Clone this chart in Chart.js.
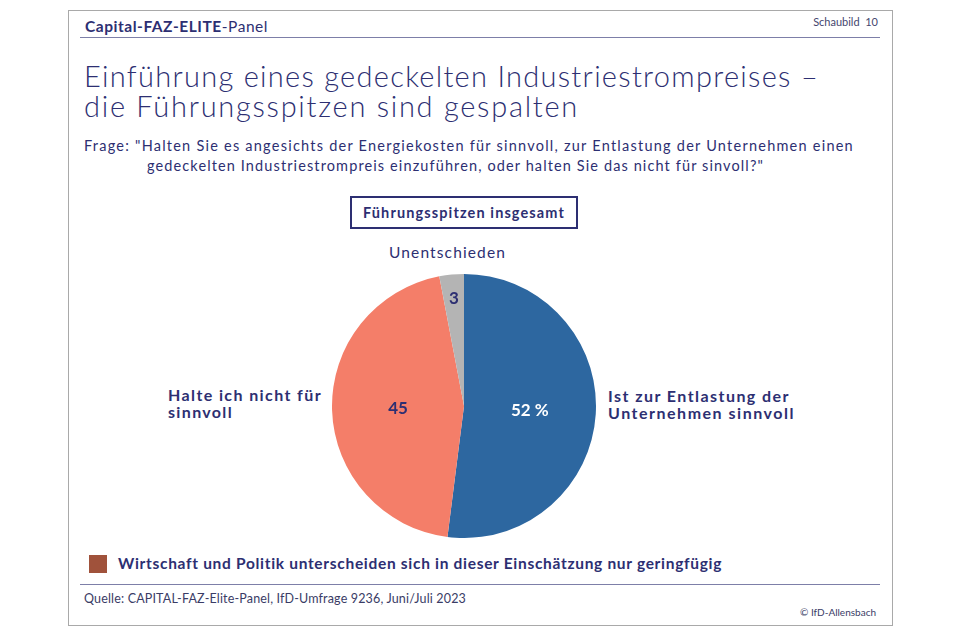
<!DOCTYPE html>
<html lang="de">
<head>
<meta charset="utf-8">
<title>Industriestrompreis</title>
<script src="https://cdn.jsdelivr.net/npm/chart.js@4/dist/chart.umd.min.js"></script>
<style>
  html, body { margin: 0; padding: 0; background: #fff; }
  body { width: 960px; height: 639px; position: relative; overflow: hidden;
         font-family: "Lato", "Noto Sans", sans-serif; color: #2d2f72; }
  .abs { position: absolute; white-space: nowrap; }
  #frame { left: 68px; top: 10px; width: 823px; height: 614px; border: 1px solid #a9a9a9; }
  .rule { position: absolute; height: 0; border-top: 1.5px solid #7d7fa8; }
  #panel { left: 85px; top: 17px; font-size: 15.5px; line-height: 19px; }
  #panel b { font-weight: 700; }
  #schaubild { right: 82px; top: 15px; font-size: 11px; color: #44466e; }
  .title { left: 84px; font-size: 29px; font-weight: 300; line-height: 26px; }
  .frage { font-size: 14.5px; line-height: 18px; }
  #box { left: 350px; top: 196px; width: 224px; height: 29px; border: 2px solid #2d2f72; text-align: center; }
  #box span { font-size: 14.5px; font-weight: 700; line-height: 29px; display: inline-block; }
  #unent { left: 389px; top: 243px; font-size: 15.5px; line-height: 19px; }
  .side { font-size: 16px; font-weight: 700; line-height: 14px; }
  #square { left: 89px; top: 555px; width: 18px; height: 18px; background: #a0523b; }
  #note { left: 118px; top: 554px; font-size: 15.5px; font-weight: 700; line-height: 19px; }
  #quelle { left: 84px; top: 591px; font-size: 12.5px; color: #3a3c66; }
  #copy { right: 84px; top: 606px; font-size: 10px; color: #3a3c66; }
  #pie { left: 332px; top: 274px; width: 264px; height: 264px; }
</style>
</head>
<body>
<div id="frame" class="abs"></div>
<div id="panel" class="abs fit" data-w="183"><b>Capital-FAZ-ELITE</b>-Panel</div>
<div id="schaubild" class="abs">Schaubild&nbsp;&nbsp;10</div>
<div class="rule" style="left:80px; top:37px; width:800px;"></div>
<div class="abs title fit" data-w="735" style="top:63px;">Einführung eines gedeckelten Industriestrompreises –</div>
<div class="abs title fit" data-w="495" style="top:93px;">die Führungsspitzen sind gespalten</div>
<div class="abs frage fit" data-w="770" style="left:84px; top:137px;">Frage: "Halten Sie es angesichts der Energiekosten für sinnvoll, zur Entlastung der Unternehmen einen</div>
<div class="abs frage fit" data-w="617" style="left:147px; top:157px;">gedeckelten Industriestrompreis einzuführen, oder halten Sie das nicht für sinvoll?"</div>
<div id="box" class="abs"><span class="fit" data-w="202">Führungsspitzen insgesamt</span></div>
<div id="unent" class="abs fit" data-w="117">Unentschieden</div>
<div class="abs side fit" data-w="154" style="left:168px; top:387.5px;">Halte ich nicht für</div>
<div class="abs side fit" data-w="65" style="left:168px; top:404.5px;">sinnvoll</div>
<div class="abs side fit" data-w="182" style="left:608px; top:388.5px;">Ist zur Entlastung der</div>
<div class="abs side fit" data-w="187" style="left:608px; top:405.5px;">Unternehmen sinnvoll</div>
<div id="pie" class="abs"><canvas id="chart"></canvas></div>
<div id="square" class="abs"></div>
<div id="note" class="abs fit" data-w="604">Wirtschaft und Politik unterscheiden sich in dieser Einschätzung nur geringfügig</div>
<div class="rule" style="left:80px; top:584px; width:800px;"></div>
<div id="quelle" class="abs fit" data-w="382">Quelle: CAPITAL-FAZ-Elite-Panel, IfD-Umfrage 9236, Juni/Juli 2023</div>
<div id="copy" class="abs">© IfD-Allensbach</div>

<script>
// Daten
const categories = ['Ist zur Entlastung der Unternehmen sinnvoll', 'Halte ich nicht für sinnvoll', 'Unentschieden'];
const values = [52, 45, 3];
const valueLabels = ['52 %', '45', '3'];

const colors = ['#2d67a0', '#f47e69', '#b4b4b4'];
const labelColors = ['#ffffff', '#2d2f72', '#2d2f72'];
const labelRadius = [0.5, 0.5, 0.82];

// Texte auf die Breite der Vorlage bringen (die Originalschrift ist breiter)
document.querySelectorAll('.fit').forEach(el => {
    el.style.letterSpacing = '0px';
    const w = el.getBoundingClientRect().width;
    const n = el.textContent.length;
    el.style.letterSpacing = ((+el.dataset.w - w) / n).toFixed(3) + 'px';
});

// Werte in die Segmente schreiben
const sliceLabels = {
    id: 'sliceLabels',
    afterDatasetsDraw(chart) {
        const ctx = chart.ctx;
        const meta = chart.getDatasetMeta(0);
        ctx.save();
        ctx.font = 'bold 17px Lato, "Noto Sans", sans-serif';
        ctx.textAlign = 'center';
        ctx.textBaseline = 'middle';
        meta.data.forEach((arc, i) => {
            const p = arc.getProps(['x', 'y', 'startAngle', 'endAngle', 'outerRadius'], true);
            const mid = (p.startAngle + p.endAngle) / 2;
            const r = p.outerRadius * labelRadius[i];
            ctx.fillStyle = labelColors[i];
            ctx.fillText(valueLabels[i], p.x + Math.cos(mid) * r, p.y + Math.sin(mid) * r);
        });
        ctx.restore();
    }
};

new Chart(document.getElementById('chart'), {
    type: 'pie',
    data: {
        labels: categories,
        datasets: [{
            data: values,
            backgroundColor: colors,
            borderWidth: 0
        }]
    },
    options: {
        responsive: true,
        maintainAspectRatio: false,
        animation: false,
        layout: { padding: 0 },
        plugins: {
            legend: { display: false },
            tooltip: { enabled: false }
        }
    },
    plugins: [sliceLabels]
});
</script>
</body>
</html>
